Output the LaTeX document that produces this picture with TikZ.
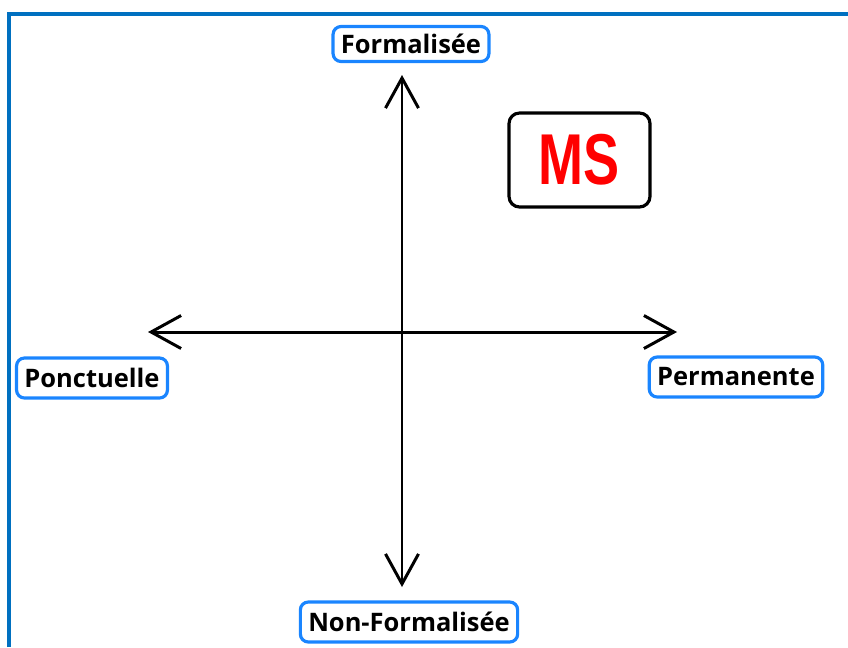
\documentclass[tikz,border=0pt]{standalone}
\usepackage{fontspec}
\setmainfont{Open Sans}
\newfontfamily\msfont{Liberation Sans}
\usepackage{tikz}
\usetikzlibrary{arrows.meta}
\usetikzlibrary{positioning}
\definecolor{framebl}{HTML}{0070C0}
\definecolor{tagbl}{HTML}{1A85FF}
\definecolor{msred}{HTML}{FF0000}
\tikzstyle{tag} = [draw=tagbl, line width=1.8pt, rounded corners=4.5pt, inner xsep=4.5pt, inner ysep=2pt, minimum height=0.8cm, font=\bfseries\fontsize{14.5}{15}\selectfont]
\tikzstyle{axis} = [line width=1.7pt, {Straight Barb[length=0.6cm,width=0.66cm,line width=1.7pt]}-{Straight Barb[length=0.6cm,width=0.66cm,line width=1.7pt]}]

\begin{document}
\begin{tikzpicture}[x=0.02cm,y=-0.02cm]
\useasboundingbox (0,0) rectangle (848,647);
\coordinate (O) at (402,332);
\coordinate (W) at (148,332);
\coordinate (E) at (677,332);
\coordinate (N) at (402,75);
\coordinate (S) at (402,587);

% frame
\draw [framebl, line width=1.8pt] (9,647) -- (9,14) -- (848,14);

\node [tag, minimum height=0.7cm] (form) at (411,44)  {Formalisée};
\node [tag] (nonform) at (409,622) {Non-Formalisée};
\node [tag] (ponct)   at (92,378)  {Ponctuelle};
\node [tag] (perm)    at (736,377) {Permanente};

\draw [axis] (W) -- (E);
\draw [axis] (N) -- (S);

\draw [line width=1.8pt, rounded corners=6pt] (509,113) rectangle node[msred, font=\msfont\bfseries\fontsize{41}{41}\selectfont, xscale=0.75]{MS} (650,207);
\end{tikzpicture}
\end{document}
